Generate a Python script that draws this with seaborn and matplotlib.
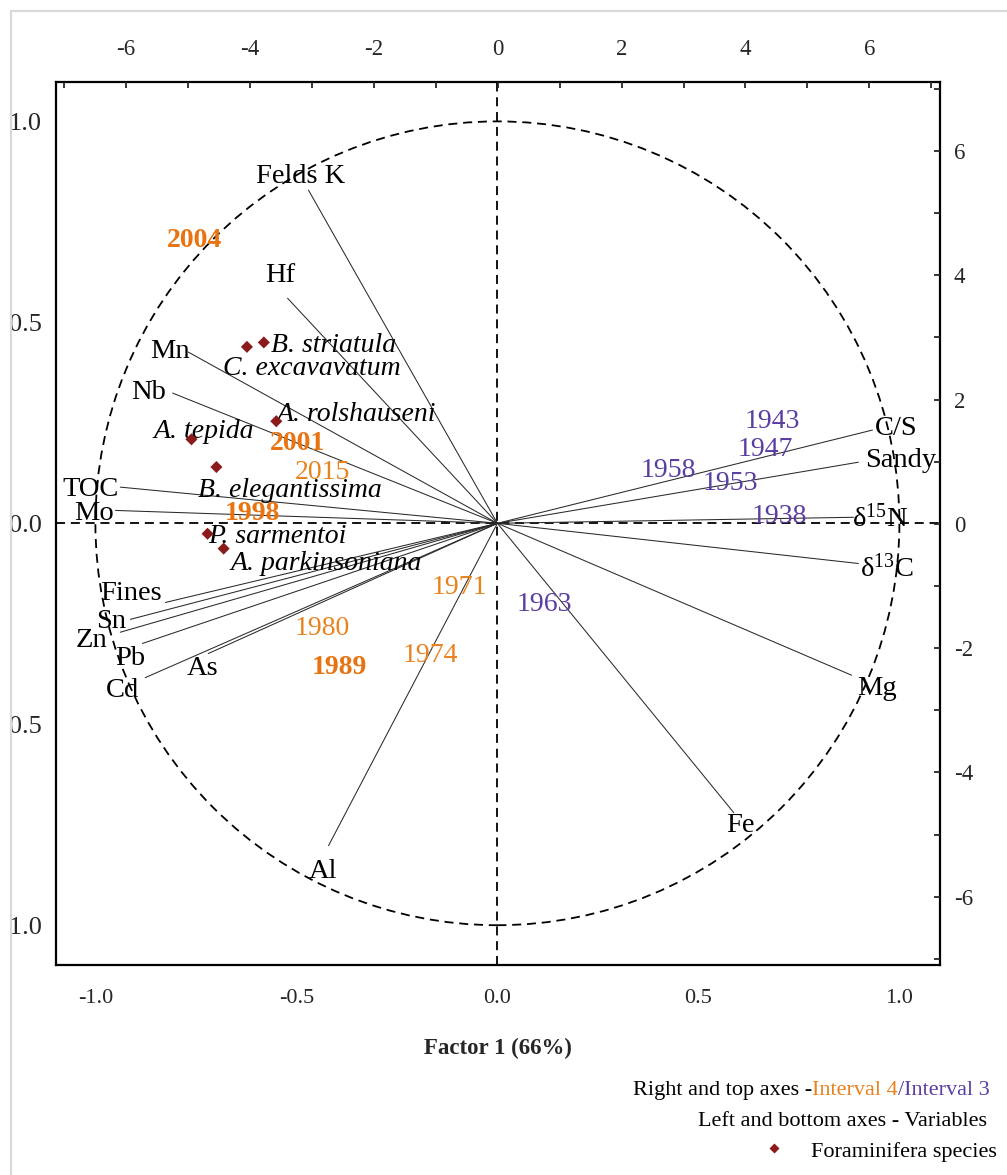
import matplotlib
matplotlib.use("Agg")
import matplotlib.pyplot as plt
import numpy as np
import pandas as pd
import seaborn as sns
from matplotlib.ticker import MultipleLocator, FormatStrFormatter
from matplotlib.patches import Circle, Rectangle
from matplotlib.lines import Line2D

# ---- variable loadings (left / bottom axes) ----
variables = ["Felds K", "Hf", "Mn", "Nb", "TOC", "Mo", "Fines", "Sn", "Zn", "Pb",
             "Cd", "As", "Al", "Fe", "Mg", r"$\mathrm{\delta^{13}C}$",
             r"$\mathrm{\delta^{15}N}$", "Sandy", "C/S"]
var_x = [-0.470, -0.522, -0.769, -0.808, -0.938, -0.950, -0.826, -0.913, -0.938, -0.883,
         -0.876, -0.719, -0.420, 0.588, 0.881, 0.898, 0.886, 0.898, 0.933]
var_y = [0.829, 0.560, 0.426, 0.324, 0.090, 0.032, -0.197, -0.239, -0.271, -0.299,
         -0.384, -0.324, -0.802, -0.720, -0.378, -0.100, 0.015, 0.152, 0.232]

# ---- foraminifera species (left / bottom axes) ----
species = ["B. striatula", "C. excavavatum", "A. rolshauseni", "A. tepida",
           "B. elegantissima", "P. sarmentoi", "A. parkinsoniana"]
sp_x = [-0.581, -0.623, -0.550, -0.761, -0.699, -0.721, -0.681]
sp_y = [0.450, 0.439, 0.254, 0.209, 0.140, -0.026, -0.063]

# ---- sample scores (right / top axes) ----
years_i4 = ["2004", "2001", "2015", "1998", "1971", "1980", "1989", "1974"]
i4_x = [-4.90, -3.23, -2.83, -3.96, -0.62, -2.83, -2.56, -1.08]
i4_y = [4.61, 1.34, 0.88, 0.21, -0.98, -1.64, -2.26, -2.07]
i4_bold = [True, True, False, True, False, False, True, False]

years_i3 = ["1943", "1947", "1958", "1953", "1938", "1963"]
i3_x = [4.44, 4.32, 2.75, 3.76, 4.54, 0.75]
i3_y = [1.70, 1.25, 0.90, 0.69, 0.17, -1.25]

# label placement (pixel offsets from the loading / marker)
var_label_offsets = [(-8, 17), (-7, 26), (-18, 4), (-24, 4), (-30, 1), (-21, 0),
                     (-34, 12), (-19, 1), (-29, -5), (-12, -12), (-23, -10), (-6, -12),
                     (-6, -23), (7, -10), (25, -10), (28, -2), (27, 2), (42, 5), (24, 5)]
sp_label_offsets = [(7, 0), (-24, -19), (0, 10), (-38, 11), (-18, -20), (1, 0), (7, -12)]

ORANGE = "#E8821E"
ORANGE_B = "#E87310"
PURPLE = "#5A3EA0"
DIAMOND = "#8B1A1A"

sns.set_style("white")
plt.rcParams["font.family"] = ["Liberation Serif", "DejaVu Serif"]
plt.rcParams["mathtext.fontset"] = "custom"
plt.rcParams["mathtext.rm"] = "Liberation Serif"
plt.rcParams["mathtext.it"] = "Liberation Serif:italic"
plt.rcParams["axes.unicode_minus"] = False

W, H = 1007, 1175
fig = plt.figure(figsize=(W / 100, H / 100), dpi=100)
fig.patch.set_facecolor("white")
rect = [56 / W, (H - 965) / H, 884 / W, 883 / H]
ax = fig.add_axes(rect)
ax.set_xlim(-1.098, 1.101)
ax.set_ylim(-1.099, 1.098)

# reference lines and unit circle
dash = (0, (5, 3.2))
ax.axhline(0, color="black", lw=1.3, ls=dash, zorder=1)
ax.axvline(0, color="black", lw=1.3, ls=dash, zorder=1)
ax.add_patch(Circle((0, 0), 1.0, fill=False, ec="black", lw=1.3, ls=dash, zorder=1))

# loading vectors from the origin
seg = pd.DataFrame({
    "var": np.repeat(np.arange(len(variables)), 2),
    "x": np.ravel(np.column_stack([np.zeros(len(variables)), var_x])),
    "y": np.ravel(np.column_stack([np.zeros(len(variables)), var_y])),
})
sns.lineplot(data=seg, x="x", y="y", units="var", estimator=None, sort=False,
             color="#2a2a2a", lw=0.75, ax=ax, legend=False, zorder=2)

for name, x, y, (dx, dy) in zip(variables, var_x, var_y, var_label_offsets):
    ax.annotate(name, xy=(x, y), xytext=(dx, dy), textcoords="offset pixels",
                ha="center", va="center_baseline", fontsize=20.5, color="black", zorder=4)

# species markers
sns.scatterplot(x=sp_x, y=sp_y, marker="D", s=38, color=DIAMOND, edgecolor="none",
                ax=ax, zorder=5, legend=False)
for name, x, y, (dx, dy) in zip(species, sp_x, sp_y, sp_label_offsets):
    ax.annotate(name, xy=(x, y), xytext=(dx, dy), textcoords="offset pixels",
                ha="left", va="center_baseline", fontsize=20, fontstyle="italic",
                color="black", zorder=4)

# left / bottom axis styling
for s in ax.spines.values():
    s.set_linewidth(1.6)
    s.set_color("black")
ax.xaxis.set_major_locator(MultipleLocator(0.5))
ax.xaxis.set_minor_locator(MultipleLocator(0.1))
ax.yaxis.set_major_locator(MultipleLocator(0.5))
ax.yaxis.set_minor_locator(MultipleLocator(0.1))
ax.xaxis.set_major_formatter(FormatStrFormatter("%.1f"))
ax.yaxis.set_major_formatter(FormatStrFormatter("%.1f"))
ax.tick_params(which="both", direction="in", top=False, right=False, width=1.3)
ax.tick_params(which="major", length=5)
ax.tick_params(which="minor", length=3)
ax.tick_params(axis="x", which="major", pad=17, labelsize=16)
ax.tick_params(axis="y", which="major", pad=10, labelsize=19)
ax.set_xlabel("Factor 1 (66%)", fontsize=16.5, fontweight="bold", labelpad=22)
ax.set_ylabel("")

# right / top axes for the sample scores
ax2 = fig.add_axes(rect, facecolor="none")
ax2.set_xlim(-7.13, 7.14)
ax2.set_ylim(-7.10, 7.11)
for s in ax2.spines.values():
    s.set_visible(False)
ax2.xaxis.tick_top()
ax2.yaxis.tick_right()
ax2.xaxis.set_major_locator(MultipleLocator(2))
ax2.xaxis.set_minor_locator(MultipleLocator(1))
ax2.yaxis.set_major_locator(MultipleLocator(2))
ax2.yaxis.set_minor_locator(MultipleLocator(1))
ax2.xaxis.set_major_formatter(FormatStrFormatter("%d"))
ax2.yaxis.set_major_formatter(FormatStrFormatter("%d"))
ax2.tick_params(which="both", direction="in", width=1.3, length=4.5)
ax2.tick_params(axis="x", which="major", pad=16, labelsize=16.5)
ax2.tick_params(axis="y", which="major", pad=10, labelsize=16.5)

for lab, x, y, b in zip(years_i4, i4_x, i4_y, i4_bold):
    ax2.text(x, y, lab, ha="center", va="center_baseline", fontsize=20,
             fontweight="bold" if b else "normal", color=ORANGE_B if b else ORANGE, zorder=6)
for lab, x, y in zip(years_i3, i3_x, i3_y):
    ax2.text(x, y, lab, ha="center", va="center_baseline", fontsize=20,
             color=PURPLE, zorder=6)

# key below the plot
fs_key = 16
t3 = fig.text(990 / W, 1 - 1088 / H, "/Interval 3", ha="right", va="center_baseline",
              fontsize=fs_key, color=PURPLE)
t2 = ax2.annotate("Interval 4", xy=(0, 0), xycoords=t3, ha="right", va="bottom",
                  fontsize=fs_key, color=ORANGE, annotation_clip=False)
ax2.annotate("Right and top axes -", xy=(0, 0), xycoords=t2, ha="right", va="bottom",
             fontsize=fs_key, color="black", annotation_clip=False)
fig.text(987 / W, 1 - 1119 / H, "Left and bottom axes - Variables", ha="right",
         va="center_baseline", fontsize=fs_key, color="black")
fig.text(997 / W, 1 - 1150 / H, "Foraminifera species", ha="right",
         va="center_baseline", fontsize=fs_key, color="black")
fig.add_artist(Line2D([774 / W], [1 - 1148 / H], marker="D", ms=5.6, color=DIAMOND,
                      mec="none", ls="none", transform=fig.transFigure))

# page frame
fig.add_artist(Rectangle((0, 0), 11 / W, 1, transform=fig.transFigure,
                         facecolor="white", edgecolor="none", zorder=20))
fig.add_artist(Line2D([11 / W, 11 / W], [0, 1 - 11 / H], color="#d9d9d9", lw=1.6,
                      transform=fig.transFigure, zorder=21))
fig.add_artist(Line2D([11 / W, 1], [1 - 11 / H, 1 - 11 / H], color="#d9d9d9", lw=1.6,
                      transform=fig.transFigure, zorder=21))

fig.savefig("out.png", dpi=100, facecolor="white")
